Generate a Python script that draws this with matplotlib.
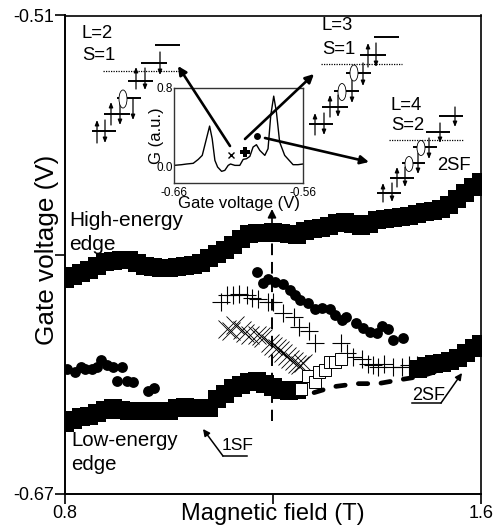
import matplotlib
matplotlib.use("Agg")
import matplotlib.pyplot as plt
from matplotlib.patches import Ellipse

plt.rcParams["font.family"] = ["Liberation Sans", "DejaVu Sans"]

edge_x = [0.800, 0.815, 0.831, 0.846, 0.862, 0.877, 0.892, 0.908, 0.923, 0.938,
          0.954, 0.969, 0.985, 1.000, 1.015, 1.031, 1.046, 1.062, 1.077, 1.092,
          1.108, 1.123, 1.138, 1.154, 1.169, 1.185, 1.200, 1.215, 1.231, 1.246,
          1.262, 1.277, 1.292, 1.308, 1.323, 1.338, 1.354, 1.369, 1.385, 1.400,
          1.415, 1.431, 1.446, 1.462, 1.477, 1.492, 1.508, 1.523, 1.538, 1.554,
          1.569, 1.585, 1.600]
high_edge = [-.5980, -.5970, -.5960, -.5950, -.5937, -.5923, -.5920, -.5917, -.5917, -.5927,
             -.5937, -.5940, -.5943, -.5943, -.5940, -.5937, -.5933, -.5927, -.5910, -.5897,
             -.5883, -.5867, -.5847, -.5830, -.5827, -.5827, -.5823, -.5827, -.5830, -.5833,
             -.5820, -.5813, -.5810, -.5803, -.5793, -.5790, -.5797, -.5803, -.5797, -.5783,
             -.5780, -.5777, -.5773, -.5770, -.5763, -.5756, -.5753, -.5747, -.5733, -.5713,
             -.5693, -.5673, -.5656]

low_x = edge_x[:30] + [1.479, 1.494, 1.510, 1.525, 1.540, 1.556, 1.571, 1.587, 1.600]
low_edge = [-.6461, -.6451, -.6444, -.6438, -.6428, -.6418, -.6414, -.6418, -.6421, -.6424,
            -.6421, -.6421, -.6424, -.6421, -.6411, -.6408, -.6411, -.6414, -.6411, -.6384,
            -.6364, -.6344, -.6334, -.6327, -.6321, -.6331, -.6341, -.6351, -.6354, -.6351,
            -.6281, -.6271, -.6264, -.6261, -.6254, -.6244, -.6227, -.6211, -.6197]

circle_low_x = [.804, .819, .831, .838, .852, .862, .869, .881, .892, .910, .900, .919, .931, .960, .971]
circle_low_y = [-.6281, -.6291, -.6274, -.6281, -.6281, -.6274, -.6251, -.6267, -.6277, -.6274,
                -.6321, -.6321, -.6327, -.6354, -.6344]

circle_x = [1.169, 1.181, 1.190, 1.204, 1.219, 1.233, 1.242, 1.252, 1.267, 1.281, 1.294, 1.310,
            1.319, 1.333, 1.340, 1.360, 1.373, 1.387, 1.400, 1.410, 1.421, 1.431, 1.450]
circle_y = [-.5957, -.5993, -.5980, -.5990, -.5997, -.6017, -.6034, -.6050, -.6060, -.6080, -.6077, -.6080,
            -.6100, -.6117, -.6107, -.6127, -.6144, -.6157, -.6161, -.6137, -.6147, -.6184, -.6177]

plus_x = [1.100, 1.112, 1.123, 1.135, 1.150, 1.160, 1.171, 1.190, 1.200, 1.219, 1.240, 1.250, 1.269,
          1.281, 1.331, 1.342, 1.354, 1.371, 1.383, 1.392, 1.402, 1.413, 1.431, 1.448, 1.462, 1.477]
plus_y = [-.6057, -.6034, -.6034, -.6030, -.6034, -.6044, -.6047, -.6057, -.6057, -.6094, -.6107, -.6140, -.6154,
          -.6194, -.6194, -.6227, -.6241, -.6247, -.6264, -.6267, -.6274, -.6264, -.6274, -.6274, -.6267, -.6267]

cross_x = [1.112, 1.120, 1.127, 1.140, 1.147, 1.156, 1.169, 1.176, 1.181, 1.194, 1.200, 1.208,
           1.214, 1.219, 1.226, 1.233, 1.240, 1.246, 1.252, 1.258]
cross_y = [-.6147, -.6155, -.6134, -.6150, -.6160, -.6167, -.6167, -.6172, -.6177, -.6194, -.6205, -.6211,
           -.6218, -.6227, -.6240, -.6247, -.6255, -.6265, -.6267, -.6261]

open_x = [1.254, 1.267, 1.281, 1.288, 1.300, 1.310, 1.319, 1.331]
open_y = [-.6348, -.6307, -.6324, -.6291, -.6284, -.6257, -.6257, -.6247]

dash_x = [1.279, 1.317, 1.362, 1.402, 1.444, 1.483, 1.531]
dash_y = [-.6361, -.6341, -.6331, -.6331, -.6318, -.6307, -.6281]

inset_x = [-.660, -.6541, -.6502, -.6451, -.6412, -.6381, -.6355, -.6324, -.6304, -.6283, -.6262,
           -.6231, -.6206, -.6180, -.6162, -.6128, -.6090, -.6064, -.6038, -.6012, -.5987, -.5961,
           -.5935, -.5896, -.5871, -.5850, -.5827, -.5806, -.5781, -.5742, -.5677, -.5639, -.560]
inset_g = [.010, .017, .024, .031, .071, .112, .248, .411, .282, .061, -.007,
           -.051, -.041, .010, .024, .010, .010, .071, .078, .102, .197, .221,
           .163, .112, .180, .520, .717, .554, .248, .112, .017, .017, .024]

fig = plt.figure(figsize=(5.02, 5.27), dpi=100)
ax = fig.add_axes([65 / 502, 33 / 527, 416 / 502, 478.5 / 527])

ax.plot(edge_x, high_edge, "s", color="black", ms=13.5, mew=0)
ax.plot(low_x, low_edge, "s", color="black", ms=13.5, mew=0)
ax.plot(circle_low_x, circle_low_y, "o", color="black", ms=7.8, mew=0)
ax.plot(circle_x, circle_y, "o", color="black", ms=7.8, mew=0)
ax.plot(plus_x, plus_y, "+", color="black", ms=13, mew=0.8)
ax.plot(cross_x, cross_y, "x", color="black", ms=13, mew=0.6)
ax.plot(open_x, open_y, "s", mfc="white", mec="black", ms=8, mew=0.7)
ax.plot(dash_x, dash_y, color="black", lw=3.4, dashes=(2.0, 2.8), dash_capstyle="round")

ax.set_xlim(0.8, 1.6)
ax.set_ylim(-0.67, -0.51)
ax.set_xticks([0.8, 1.2, 1.6])
ax.set_xticklabels(["0.8", "", "1.6"], fontsize=13)
ax.set_yticks([-0.67, -0.59, -0.51])
ax.set_yticklabels(["-0.67", "", "-0.51"], fontsize=13)
ax.tick_params(length=7, width=1.2, pad=1)
for side in ["left", "bottom"]:
    ax.spines[side].set_linewidth(1.4)
for side in ["top", "right"]:
    ax.spines[side].set_linewidth(1.2)
ax.set_xlabel("Magnetic field (T)", fontsize=17, labelpad=-14)
ax.set_ylabel("Gate voltage (V)", fontsize=18.8, labelpad=-33, y=0.51)

# inset trace
inset = fig.add_axes([174 / 502, (527 - 183) / 527, 129 / 502, 95 / 527])
inset.plot(inset_x, inset_g, color="black", lw=1)
inset.plot([-.6159], [.112], "x", color="black", ms=5, mew=1)
inset.plot([-.6051], [.146], "P", color="black", ms=7, mew=0)
inset.plot([-.5956], [.306], "o", color="black", ms=5, mew=0)
inset.set_xlim(-0.66, -0.56)
inset.set_ylim(-0.17, 0.8)
inset.set_xticks([-0.66, -0.56])
inset.set_xticklabels(["-0.66", "-0.56"], fontsize=8.5)
inset.set_yticks([0.0, 0.8])
inset.set_yticklabels(["0.0", "0.8"], fontsize=8.5)
inset.tick_params(axis="x", length=0, pad=3)
inset.tick_params(axis="y", length=0, pad=1)
for spine in inset.spines.values():
    spine.set_linewidth(1)
    spine.set_color("#333333")
inset.set_xlabel("Gate voltage (V)", fontsize=12, labelpad=-2)
inset.set_ylabel("G (a.u.)", fontsize=12, labelpad=-6)

# overlay in pixel coordinates for the sketches, arrows and notes
over = fig.add_axes([0, 0, 1, 1], facecolor="none", zorder=5)
over.set_xlim(0, 502)
over.set_ylim(527, 0)
over.axis("off")


def draw_levels(levels, ups, downs, ovals, dotted):
    for x0, x1, y in levels:
        over.plot([x0, x1], [y, y], color="black", lw=1.4, solid_capstyle="butt")
    for x, y0, y1 in ups:
        over.annotate("", xy=(x, y0), xytext=(x, y1),
                      arrowprops=dict(arrowstyle="-|>,head_width=0.12,head_length=0.3", color="black",
                                      lw=0.9, shrinkA=0, shrinkB=0))
    for x, y0, y1 in downs:
        over.annotate("", xy=(x, y1), xytext=(x, y0),
                      arrowprops=dict(arrowstyle="-|>,head_width=0.12,head_length=0.3", color="black",
                                      lw=0.9, shrinkA=0, shrinkB=0))
    for x, y, h in ovals:
        over.add_patch(Ellipse((x, y), 8, h, fc="white", ec="black", lw=0.6, zorder=3))
    over.plot(dotted[:2], [dotted[2], dotted[2]], color="black", lw=0.9, ls=(0, (1, 1)))


draw_levels([(92, 116, 131), (104, 130, 114), (117, 141, 98), (128, 153, 81), (141, 167, 63), (155, 180, 45)],
            [(97, 120, 143), (111, 102, 125), (136, 67, 89)],
            [(105, 120, 143), (120, 103, 125), (133, 98, 120), (145, 68, 90), (160, 52, 75)],
            [(123, 99, 18)],
            (103, 180, 71))
draw_levels([(309, 333, 124), (322, 348, 107), (334, 359, 91), (346, 371, 73), (360, 386, 55), (374, 399, 37)],
            [(315, 113, 135), (330, 95, 117), (368, 43, 67)],
            [(324, 113, 135), (338, 95, 117), (352, 80, 103), (363, 63, 86), (376, 43, 67)],
            [(342, 92, 17), (354, 73, 16)],
            (321, 402, 64))
draw_levels([(377, 401, 193), (390, 414, 178), (402, 425, 163), (413, 437, 147), (426, 450, 132), (439, 463, 116)],
            [(383, 183, 202), (397, 167, 187)],
            [(392, 183, 202), (405, 167, 187), (418, 153, 174), (429, 138, 159), (440, 123, 143), (455, 107, 127)],
            [(409, 164, 15), (421, 148, 15)],
            (389, 464, 140))


def draw_arrow(start, end, lw=1.9, head=0.25):
    over.annotate("", xy=end, xytext=start,
                  arrowprops=dict(arrowstyle=f"-|>,head_width={head},head_length={head * 2}", color="black",
                                  lw=lw, shrinkA=0, shrinkB=0))


draw_arrow((230, 146), (178, 66))
draw_arrow((245, 139), (314, 74))
draw_arrow((265, 138), (369, 162))
draw_arrow((272, 225), (272, 209), lw=1.2)
over.plot([272, 272], [225, 421], color="black", lw=1.4, dashes=(6, 3.5))

over.plot([247, 223], [456, 456], color="black", lw=1.1)
draw_arrow((223, 456), (203, 429), lw=1.1, head=0.2)
over.plot([412, 441], [403, 403], color="black", lw=1.1)
draw_arrow((441, 403), (462, 373), lw=1.1, head=0.2)

note_args = dict(color="black", ha="left", va="center")
over.text(82, 34, "L=2", fontsize=13.3, **note_args)
over.text(82, 56, "S=1", fontsize=13.3, **note_args)
over.text(322, 26, "L=3", fontsize=13.3, **note_args)
over.text(322, 49, "S=1", fontsize=13.3, **note_args)
over.text(391, 105, "L=4", fontsize=13.3, **note_args)
over.text(391, 126, "S=2", fontsize=13.3, **note_args)
over.text(437, 165, "2SF", fontsize=13.3, **note_args)
over.text(69, 220, "High-energy", fontsize=15, **note_args)
over.text(69, 244, "edge", fontsize=15, **note_args)
over.text(71, 440, "Low-energy", fontsize=14.7, **note_args)
over.text(71, 465, "edge", fontsize=14.7, **note_args)
over.text(222, 446, "1SF", fontsize=12.5, **note_args)
over.text(412, 396, "2SF", fontsize=13, **note_args)

fig.savefig("out.png", dpi=100)
